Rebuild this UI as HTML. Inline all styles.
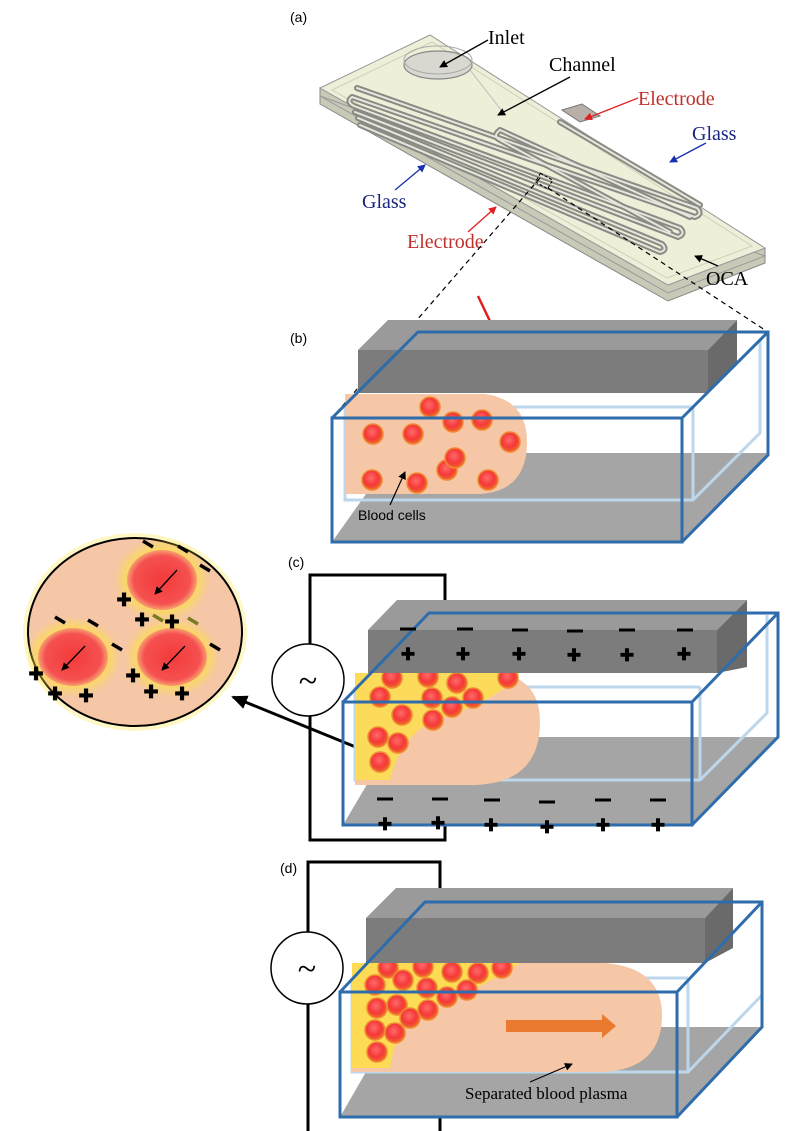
<!DOCTYPE html>
<html><head><meta charset="utf-8"><style>
html,body{margin:0;padding:0;background:#fff}
svg{display:block}
text{font-family:"Liberation Sans",sans-serif}
.serif{font-family:"Liberation Serif",serif}
</style></head><body>
<svg width="800" height="1131" viewBox="0 0 800 1131" xmlns="http://www.w3.org/2000/svg">
<defs>
<radialGradient id="cell" cx="45%" cy="40%" r="60%">
<stop offset="0" stop-color="#ff6a6a"/><stop offset="0.6" stop-color="#f53838"/><stop offset="1" stop-color="#f06a2a"/>
</radialGradient>
<radialGradient id="glow" cx="50%" cy="50%" r="50%">
<stop offset="0.55" stop-color="#ffe23a"/><stop offset="1" stop-color="#ffe23a" stop-opacity="0"/>
</radialGradient>
<radialGradient id="bigcell" cx="50%" cy="50%" r="50%">
<stop offset="0" stop-color="#f43a3a"/><stop offset="0.8" stop-color="#f55050"/><stop offset="1" stop-color="#f7a070"/>
</radialGradient>
<marker id="ah" markerWidth="8" markerHeight="8" refX="7" refY="4" orient="auto" markerUnits="userSpaceOnUse"><path d="M0,0 L8,4 L0,8 z" fill="#000"/></marker>
<marker id="ahr" markerWidth="8" markerHeight="8" refX="7" refY="4" orient="auto" markerUnits="userSpaceOnUse"><path d="M0,0 L8,4 L0,8 z" fill="#e02020"/></marker>
<marker id="ahb" markerWidth="8" markerHeight="8" refX="7" refY="4" orient="auto" markerUnits="userSpaceOnUse"><path d="M0,0 L8,4 L0,8 z" fill="#1a2fb0"/></marker>
<marker id="ahk" markerWidth="16" markerHeight="14" refX="14" refY="7" orient="auto" markerUnits="userSpaceOnUse"><path d="M0,0 L16,7 L0,14 z" fill="#000"/></marker>
</defs>

<!-- ===== (a) device ===== -->
<text x="290" y="22" font-size="14">(a)</text>
<polygon points="320,88 320,104 668,301 765,263 765,248 668,285" fill="#c9c9b8" stroke="#888" stroke-width="1"/>
<polygon points="320,96 668,293 765,256" fill="none" stroke="#999" stroke-width="1"/>
<polygon points="320,88 430,35 765,248 668,285" fill="#efeed8" stroke="#999" stroke-width="1"/>
<polygon points="332,90 432,42 752,246 667,278" fill="none" stroke="#d0cfba" stroke-width="1"/>
<!-- inlet -->
<ellipse cx="438" cy="65" rx="34" ry="14" fill="#d8d8d0" stroke="#888" stroke-width="1.2"/>
<ellipse cx="438" cy="60" rx="34" ry="14" fill="none" stroke="#aaa" stroke-width="1"/>
<path d="M470,70 L505,115" stroke="#bbb" stroke-width="1" fill="none"/>
<!-- channels -->
<g id="ch" fill="none" stroke-linecap="round" stroke-linejoin="round">
<path d="M357,88 L697,208 Q703,214 695,217 L352,97 Q346,102 354,106 L680,228 Q686,234 678,237 L355,112 M358,118 L662,244 Q668,250 660,252 L360,125"/>
<path d="M500,130 L690,217 M500,130 Q492,136 500,140 L670,232"/>
<path d="M560,122 L700,205"/>
</g>
<use href="#ch" stroke="#8a8a84" stroke-width="6"/>
<use href="#ch" stroke="#e6e6dc" stroke-width="2"/>
<polygon points="562,110 582,104 600,116 580,122" fill="#b8b0a8" stroke="#777"/>
<!-- labels a -->
<text class="serif" x="488" y="44" font-size="20">Inlet</text>
<line x1="488" y1="40" x2="440" y2="67" stroke="#000" stroke-width="1.3" marker-end="url(#ah)"/>
<text class="serif" x="549" y="71" font-size="20">Channel</text>
<line x1="570" y1="77" x2="498" y2="115" stroke="#000" stroke-width="1.3" marker-end="url(#ah)"/>
<text class="serif" x="638" y="105" font-size="20" fill="#c0302a">Electrode</text>
<line x1="638" y1="98" x2="585" y2="119" stroke="#e02020" stroke-width="1.3" marker-end="url(#ahr)"/>
<text class="serif" x="692" y="140" font-size="20" fill="#1a2580">Glass</text>
<line x1="706" y1="143" x2="670" y2="162" stroke="#1a2fb0" stroke-width="1.3" marker-end="url(#ahb)"/>
<text class="serif" x="362" y="208" font-size="20" fill="#1a2580">Glass</text>
<line x1="395" y1="190" x2="425" y2="165" stroke="#1a2fb0" stroke-width="1.3" marker-end="url(#ahb)"/>
<text class="serif" x="407" y="248" font-size="20" fill="#c0302a">Electrode</text>
<line x1="468" y1="232" x2="496" y2="207" stroke="#e02020" stroke-width="1.3" marker-end="url(#ahr)"/>
<text class="serif" x="706" y="285" font-size="20">OCA</text>
<line x1="718" y1="266" x2="695" y2="256" stroke="#000" stroke-width="1.3" marker-end="url(#ah)"/>
<!-- dashed -->
<line x1="540" y1="178" x2="332" y2="418" stroke="#000" stroke-dasharray="5,4" stroke-width="1.2"/>
<line x1="548" y1="188" x2="768" y2="332" stroke="#000" stroke-dasharray="5,4" stroke-width="1.2"/>
<rect x="537" y="176" width="14" height="10" fill="none" stroke="#000" stroke-dasharray="3,2" transform="rotate(30 544 181)"/>
<line x1="478" y1="296" x2="497" y2="336" stroke="#e02020" stroke-width="2.5" marker-end="url(#ahr)"/>

<!-- ===== (b) ===== -->
<text x="290" y="343" font-size="14">(b)</text>
<polygon points="332,542 395,453 768,453 682,542" fill="#a5a5a5"/>
<polyline points="345,407 345,500 693,500 760,433 760,340" fill="none" stroke="#bcd6ec" stroke-width="3"/>
<line x1="345" y1="407" x2="693" y2="407" stroke="#bcd6ec" stroke-width="3"/>
<line x1="693" y1="407" x2="693" y2="500" stroke="#bcd6ec" stroke-width="3"/>
<path d="M345,394 H485 Q527,400 527,442 Q527,491 480,494 H345 Z" fill="#f5c7a6"/>
<g fill="url(#cell)" stroke="#f08a30" stroke-width="1.5">
<circle cx="430" cy="407" r="10"/><circle cx="373" cy="434" r="10"/><circle cx="413" cy="434" r="10"/>
<circle cx="453" cy="422" r="10"/><circle cx="482" cy="420" r="10"/><circle cx="510" cy="442" r="10"/>
<circle cx="447" cy="470" r="10"/><circle cx="455" cy="458" r="10"/><circle cx="372" cy="480" r="10"/>
<circle cx="417" cy="483" r="10"/><circle cx="488" cy="480" r="10"/>
</g>
<polygon points="388,320 737,320 708,350 358,350" fill="#9a9a9a"/>
<rect x="358" y="350" width="350" height="43" fill="#7c7c7c"/>
<polygon points="708,350 737,320 737,365 708,393" fill="#6a6a6a"/>
<rect x="332" y="418" width="350" height="124" fill="none" stroke="#2f6cab" stroke-width="3"/>
<polyline points="332,418 418,332 768,332 768,455 682,542" fill="none" stroke="#2f6cab" stroke-width="3"/>
<line x1="682" y1="418" x2="768" y2="332" stroke="#2f6cab" stroke-width="3"/>
<text x="358" y="520" font-size="14">Blood cells</text>
<line x1="390" y1="505" x2="405" y2="472" stroke="#000" stroke-width="1.2" marker-end="url(#ah)"/>

<!-- ===== magnified circle ===== -->
<ellipse cx="135" cy="632" rx="112" ry="99" fill="#fff3a0" opacity="0.6"/>
<ellipse cx="135" cy="632" rx="107" ry="94" fill="#f5c7a6" stroke="#000" stroke-width="2"/>
<ellipse cx="162" cy="580" rx="48" ry="42" fill="url(#glow)"/>
<ellipse cx="73" cy="657" rx="48" ry="40" fill="url(#glow)"/>
<ellipse cx="172" cy="657" rx="48" ry="40" fill="url(#glow)"/>
<ellipse cx="162" cy="580" rx="35" ry="30" fill="url(#bigcell)"/>
<ellipse cx="73" cy="657" rx="35" ry="29" fill="url(#bigcell)"/>
<ellipse cx="172" cy="657" rx="35" ry="29" fill="url(#bigcell)"/>
<g stroke="#000" stroke-width="1.3">
<line x1="177" y1="570" x2="155" y2="594" marker-end="url(#ah)"/>
<line x1="85" y1="646" x2="62" y2="670" marker-end="url(#ah)"/>
<line x1="185" y1="646" x2="162" y2="670" marker-end="url(#ah)"/>
</g>
<g stroke="#000" stroke-width="3.5">
<line x1="143" y1="541" x2="153" y2="547"/><line x1="178" y1="546" x2="188" y2="552"/><line x1="200" y1="565" x2="210" y2="571"/>
<line x1="55" y1="617" x2="65" y2="623"/><line x1="88" y1="620" x2="98" y2="626"/><line x1="112" y1="644" x2="122" y2="650"/><line x1="210" y1="644" x2="220" y2="650"/>
<line x1="153" y1="615" x2="163" y2="621" stroke="#7a7a20"/><line x1="188" y1="618" x2="198" y2="624" stroke="#7a7a20"/>
</g>
<g font-size="18" font-weight="bold" text-anchor="middle">
<text x="124" y="606">✚</text><text x="142" y="626">✚</text><text x="172" y="628">✚</text>
<text x="36" y="680">✚</text><text x="55" y="700">✚</text><text x="86" y="702">✚</text>
<text x="133" y="682">✚</text><text x="151" y="698">✚</text><text x="182" y="700">✚</text>
</g>
<line x1="363" y1="750" x2="233" y2="697" stroke="#000" stroke-width="3" marker-end="url(#ahk)"/>

<!-- ===== (c) ===== -->
<text x="288" y="567" font-size="14">(c)</text>
<polyline points="445,630 445,575 310,575 310,840 445,840 445,825" fill="none" stroke="#000" stroke-width="3"/>
<circle cx="308" cy="680" r="36" fill="#fff" stroke="#000" stroke-width="1.5"/>
<text class="serif" x="308" y="692" font-size="34" text-anchor="middle">~</text>
<polygon points="343,825 395,737 778,737 692,825" fill="#a5a5a5"/>
<polyline points="355,687 355,780 700,780 767,713 767,615" fill="none" stroke="#bcd6ec" stroke-width="3"/>
<line x1="355" y1="687" x2="700" y2="687" stroke="#bcd6ec" stroke-width="3"/>
<line x1="700" y1="687" x2="700" y2="780" stroke="#bcd6ec" stroke-width="3"/>
<path d="M355,673 H500 Q540,680 540,722 Q540,785 470,785 H355 Z" fill="#f5c7a6"/>
<path d="M355,673 H520 Q500,700 430,722 Q400,740 390,780 H355 Z" fill="#ffe23a" opacity="0.7"/>
<g fill="url(#cell)" stroke="#f08a30" stroke-width="1.5">
<circle cx="392" cy="678" r="10"/><circle cx="428" cy="677" r="10"/><circle cx="457" cy="683" r="10"/><circle cx="508" cy="678" r="10"/>
<circle cx="380" cy="697" r="10"/><circle cx="432" cy="698" r="10"/><circle cx="473" cy="698" r="10"/><circle cx="452" cy="707" r="10"/>
<circle cx="402" cy="715" r="10"/><circle cx="433" cy="720" r="10"/><circle cx="378" cy="737" r="10"/><circle cx="398" cy="743" r="10"/><circle cx="380" cy="762" r="10"/>
</g>
<polygon points="397,600 747,600 717,630 368,630" fill="#9a9a9a"/>
<rect x="368" y="630" width="349" height="43" fill="#7c7c7c"/>
<polygon points="717,630 747,600 747,667 717,673" fill="#6a6a6a"/>
<rect x="343" y="702" width="349" height="123" fill="none" stroke="#2f6cab" stroke-width="3"/>
<polyline points="343,702 429,613 778,613 778,737 692,825" fill="none" stroke="#2f6cab" stroke-width="3"/>
<line x1="692" y1="702" x2="778" y2="613" stroke="#2f6cab" stroke-width="3"/>
<g stroke="#000" stroke-width="3">
<line x1="400" y1="629" x2="416" y2="629"/><line x1="457" y1="629" x2="473" y2="629"/><line x1="512" y1="630" x2="528" y2="630"/>
<line x1="567" y1="631" x2="583" y2="631"/><line x1="619" y1="630" x2="635" y2="630"/><line x1="677" y1="630" x2="693" y2="630"/>
<line x1="377" y1="799" x2="393" y2="799"/><line x1="432" y1="799" x2="448" y2="799"/><line x1="484" y1="800" x2="500" y2="800"/>
<line x1="539" y1="802" x2="555" y2="802"/><line x1="595" y1="800" x2="611" y2="800"/><line x1="650" y1="800" x2="666" y2="800"/>
</g>
<g font-size="17" font-weight="bold" text-anchor="middle">
<text x="408" y="660">✚</text><text x="463" y="660">✚</text><text x="519" y="660">✚</text><text x="574" y="661">✚</text><text x="627" y="661">✚</text><text x="684" y="660">✚</text>
<text x="385" y="830">✚</text><text x="438" y="829">✚</text><text x="491" y="831">✚</text><text x="547" y="833">✚</text><text x="603" y="831">✚</text><text x="658" y="831">✚</text>
</g>

<!-- ===== (d) ===== -->
<text x="280" y="873" font-size="14">(d)</text>
<polyline points="440,890 440,862 308,862 308,1131" fill="none" stroke="#000" stroke-width="3"/>
<line x1="440" y1="1117" x2="440" y2="1131" stroke="#000" stroke-width="3"/>
<circle cx="307" cy="968" r="36" fill="#fff" stroke="#000" stroke-width="1.5"/>
<text class="serif" x="307" y="980" font-size="34" text-anchor="middle">~</text>
<polygon points="340,1117 392,1027 762,1027 677,1117" fill="#a5a5a5"/>
<polyline points="352,978 352,1072 688,1072 762,995 762,905" fill="none" stroke="#bcd6ec" stroke-width="3"/>
<line x1="352" y1="978" x2="688" y2="978" stroke="#bcd6ec" stroke-width="3"/>
<line x1="688" y1="978" x2="688" y2="1072" stroke="#bcd6ec" stroke-width="3"/>
<path d="M352,963 H605 Q662,968 662,1015 Q662,1068 605,1072 H352 Z" fill="#f5c7a6"/>
<path d="M352,963 H520 Q480,990 420,1010 Q395,1030 390,1068 H352 Z" fill="#ffe23a" opacity="0.75"/>
<g fill="url(#cell)" stroke="#f08a30" stroke-width="1.5">
<circle cx="388" cy="968" r="10"/><circle cx="423" cy="967" r="10"/><circle cx="452" cy="972" r="10"/><circle cx="478" cy="973" r="10"/><circle cx="502" cy="968" r="10"/>
<circle cx="375" cy="985" r="10"/><circle cx="403" cy="980" r="10"/><circle cx="427" cy="988" r="10"/><circle cx="447" cy="997" r="10"/><circle cx="467" cy="990" r="10"/>
<circle cx="377" cy="1008" r="10"/><circle cx="397" cy="1005" r="10"/><circle cx="410" cy="1018" r="10"/><circle cx="428" cy="1010" r="10"/>
<circle cx="375" cy="1030" r="10"/><circle cx="395" cy="1033" r="10"/><circle cx="377" cy="1052" r="10"/>
</g>
<polygon points="396,888 733,888 705,918 366,918" fill="#9a9a9a"/>
<rect x="366" y="918" width="339" height="45" fill="#7c7c7c"/>
<polygon points="705,918 733,888 733,948 705,963" fill="#6a6a6a"/>
<rect x="340" y="992" width="337" height="125" fill="none" stroke="#2f6cab" stroke-width="3"/>
<polyline points="340,992 425,902 762,902 762,1027 677,1117" fill="none" stroke="#2f6cab" stroke-width="3"/>
<line x1="677" y1="992" x2="762" y2="902" stroke="#2f6cab" stroke-width="3"/>
<polygon points="506,1020 602,1020 602,1014 616,1026 602,1038 602,1032 506,1032" fill="#ea7a30"/>
<text class="serif" x="465" y="1099" font-size="17">Separated blood  plasma</text>
<line x1="530" y1="1082" x2="572" y2="1064" stroke="#000" stroke-width="1.2" marker-end="url(#ah)"/>
</svg>
</body></html>
